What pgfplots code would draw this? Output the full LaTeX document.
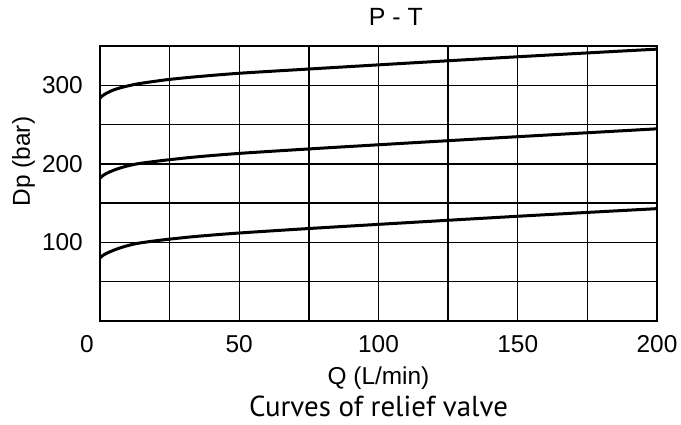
\documentclass[border=0pt]{standalone}
\usepackage{fontspec}
\setmainfont{Liberation Sans}
\newfontfamily\capfont{PT Sans}
\usepackage{pgfplots}
\pgfplotsset{compat=1.18}
\begin{document}
\begin{tikzpicture}
\path[use as bounding box] (-100bp,-104bp) rectangle (581bp,321bp);
\begin{axis}[
  at={(0,0)}, anchor=south west,
  scale only axis, width=557bp, height=275bp,
  xmin=0, xmax=200, ymin=0, ymax=350,
  xtick={50,100,150,200},
  extra x ticks={0},
  extra x tick style={grid=none, xticklabel style={xshift=-13bp}},
  ytick={100,200,300},
  minor xtick={25,75,125,175},
  minor ytick={50,150,250},
  grid=both,
  major grid style={black, line width=1.4bp},
  minor grid style={black, line width=1.4bp},
  axis line style={black, line width=1.4bp},
  major tick length=0pt, minor tick length=0pt,
  /pgf/number format/assume math mode=true,
  tick label style={font=\fontsize{24.5}{28}\selectfont, inner sep=0pt},
  xticklabel style={anchor=base, yshift=-31bp},
  yticklabel style={anchor=east, xshift=-17bp},
  title={P - T},
  title style={font=\fontsize{25}{29}\selectfont, at={(axis description cs:0.531,1)}, anchor=base, yshift=15bp, inner sep=0pt},
  xlabel={Q (L/min)},
  xlabel style={font=\fontsize{24.5}{28}\selectfont, at={(axis description cs:0.5,-0.2327)}, anchor=base, inner sep=0pt},
  ylabel={Dp (bar)},
  ylabel style={font=\fontsize{24.5}{28}\selectfont, at={(axis description cs:-0.1257,0.58)}, anchor=base, inner sep=0pt},
  clip mode=individual,
]
\addplot[black, line width=3bp, smooth] coordinates {
(0,80) (0.5,82) (1,83.4) (2,85.5) (3.5,88) (5,90.2) (7,92.8) (10,96) (13,98.5) (16,100.2) (20,102.1) (25,104.2) (35,107.8) (50,112) (75,117.7) (100,123) (125,128.2) (150,133.3) (175,138.2) (200,143)};
\addplot[black, line width=3bp, smooth] coordinates {
(0,181.5) (0.5,183.5) (1,185) (2,187.2) (3.5,189.8) (5,192) (7,194.5) (10,197.5) (13,199.8) (16,201.4) (20,203.2) (25,205.3) (35,209) (50,213.3) (75,219) (100,224.3) (125,229.5) (150,234.6) (175,239.6) (200,244.6)};
\addplot[black, line width=3bp, smooth] coordinates {
(0,283.5) (0.5,285.5) (1,287) (2,289.2) (3.5,292) (5,294.2) (7,296.5) (10,299.2) (13,301.5) (16,303.2) (20,305.2) (25,307.5) (35,311) (50,315.3) (75,320.7) (100,326) (125,331.2) (150,336.3) (175,341.2) (200,346)};
\node[anchor=base, font=\capfont\fontsize{29}{33}\selectfont, inner sep=0pt] at (rel axis cs:0.5,-0.349) {Curves of relief valve};
\end{axis}
\end{tikzpicture}
\end{document}
